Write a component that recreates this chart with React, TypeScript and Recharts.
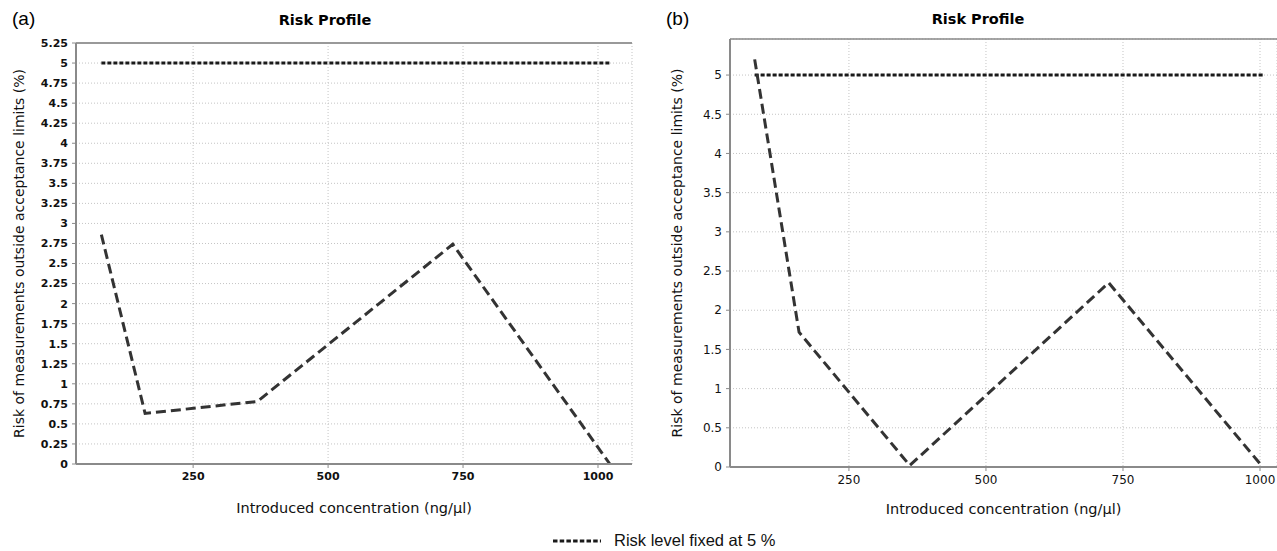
import React from "react"
import { LineChart, Line, XAxis, YAxis, CartesianGrid, ReferenceLine, Label } from "recharts"

// (a) panel
const concA = [80, 161, 369, 731, 1022]
const riskA = [2.86, 0.63, 0.78, 2.74, 0]
// (b) panel
const concB = [78, 159, 361, 724, 1005]
const riskB = [5.2, 1.72, 0.02, 2.35, 0]

const limitLevel = 5
const xTicks = [250, 500, 750, 1000]
const yTicksA = [0, 0.25, 0.5, 0.75, 1, 1.25, 1.5, 1.75, 2, 2.25, 2.5, 2.75, 3, 3.25, 3.5, 3.75, 4, 4.25, 4.5, 4.75, 5, 5.25]
const yTicksB = [0, 0.5, 1, 1.5, 2, 2.5, 3, 3.5, 4, 4.5, 5]

const TITLE = "Risk Profile"
const X_LABEL = "Introduced concentration (ng/µl)"
const Y_LABEL = "Risk of measurements outside acceptance limits (%)"
const LEGEND = "Risk level fixed at 5 %"

const FONT = "'DejaVu Sans', sans-serif"
const AXIS = "#8a8a8a"

const dataA = concA.map((c, i) => ({ conc: c, risk: riskA[i], limit: limitLevel }))
const dataB = concB.map((c, i) => ({ conc: c, risk: riskB[i], limit: limitLevel }))

const yLabel = (cx: number) => (props: any) => {
  const vb = props.viewBox
  const cy = vb.y + vb.height / 2
  return (
    <text x={cx} y={cy} transform={`rotate(-90 ${cx} ${cy})`} textAnchor="middle" dominantBaseline="central"
      fontFamily={FONT} fontSize={14} fill="#111">
      {Y_LABEL}
    </text>
  )
}

const xLabel = (dy: number) => (props: any) => {
  const vb = props.viewBox
  const cx = vb.x + vb.width / 2
  return (
    <text x={cx} y={vb.y + dy} textAnchor="middle" dominantBaseline="central" fontFamily={FONT} fontSize={14.5} fill="#111">
      {X_LABEL}
    </text>
  )
}

export default function App() {
  const tickA = { fontFamily: FONT, fontSize: 11, fontWeight: "bold", fill: "#111" }
  const tickB = { fontFamily: FONT, fontSize: 12, fill: "#111" }

  return (
    <div style={{ position: "absolute", left: 0, top: 0, width: 1277, height: 551, overflow: "hidden", background: "#fff" }}>
      <div style={{ position: "absolute", left: 12, top: 8, fontFamily: "'Liberation Sans', Arial", fontSize: 19 }}>(a)</div>
      <div style={{ position: "absolute", left: 666, top: 8, fontFamily: "'Liberation Sans', Arial", fontSize: 19 }}>(b)</div>
      <div style={{ position: "absolute", left: 225, width: 200, top: 12, textAlign: "center", fontFamily: FONT, fontSize: 14.5, fontWeight: "bold" }}>{TITLE}</div>
      <div style={{ position: "absolute", left: 878, width: 200, top: 11, textAlign: "center", fontFamily: FONT, fontSize: 14.5, fontWeight: "bold" }}>{TITLE}</div>

      <div style={{ position: "absolute", left: 0, top: 0 }}>
        <LineChart width={640} height={530} data={dataA} margin={{ top: 43, right: 8, left: 0, bottom: 0 }}>
          <CartesianGrid stroke="#c4c4c4" strokeDasharray="1 2" />
          <XAxis dataKey="conc" type="number" domain={[33, 1063]} ticks={xTicks} height={66} tick={tickA}
            tickSize={4} tickMargin={4} axisLine={{ stroke: AXIS, strokeWidth: 2 }} tickLine={{ stroke: AXIS }}>
            <Label content={xLabel(44)} />
          </XAxis>
          <YAxis type="number" domain={[0, 5.25]} ticks={yTicksA} width={76} tick={tickA} interval={0}
            tickSize={4} tickMargin={4} axisLine={{ stroke: AXIS, strokeWidth: 2 }} tickLine={{ stroke: AXIS }}>
            <Label content={yLabel(19)} />
          </YAxis>
          <ReferenceLine y={5.25} stroke="#999" strokeWidth={2} />
          <Line dataKey="limit" type="linear" stroke="#1a1a1a" strokeWidth={3} strokeDasharray="4 2" dot={false} isAnimationActive={false} />
          <Line dataKey="risk" type="linear" stroke="#333" strokeWidth={3} strokeDasharray="10 5" dot={false} isAnimationActive={false} />
        </LineChart>
      </div>

      <div style={{ position: "absolute", left: 640, top: 0 }}>
        <LineChart width={637} height={530} data={dataB} margin={{ top: 39, right: 0, left: 0, bottom: 0 }}>
          <CartesianGrid stroke="#c4c4c4" strokeDasharray="1 2" />
          <XAxis dataKey="conc" type="number" domain={[33, 1031]} ticks={xTicks} height={63} tick={tickB}
            tickSize={4} tickMargin={4} axisLine={{ stroke: AXIS, strokeWidth: 2 }} tickLine={{ stroke: AXIS }}>
            <Label content={xLabel(42)} />
          </XAxis>
          <YAxis type="number" domain={[0, 5.46]} ticks={yTicksB} width={90} tick={tickB} interval={0}
            tickSize={4} tickMargin={4} axisLine={{ stroke: AXIS, strokeWidth: 2 }} tickLine={{ stroke: AXIS }}>
            <Label content={yLabel(37)} />
          </YAxis>
          <ReferenceLine y={5.46} stroke="#888" strokeWidth={1.5} />
          <Line dataKey="limit" type="linear" stroke="#1a1a1a" strokeWidth={3} strokeDasharray="4 2" dot={false} isAnimationActive={false} />
          <Line dataKey="risk" type="linear" stroke="#333" strokeWidth={3} strokeDasharray="10 5" dot={false} isAnimationActive={false} />
        </LineChart>
      </div>

      <div style={{ position: "absolute", left: 553, top: 530, height: 20, display: "flex", alignItems: "center", whiteSpace: "nowrap" }}>
        <svg width={50} height={20}>
          <line x1={0} y1={11} x2={48} y2={11} stroke="#1a1a1a" strokeWidth={3} strokeDasharray="4.5 2.2" />
        </svg>
        <span style={{ marginLeft: 11, fontFamily: "'Liberation Sans', Arial", fontSize: 16.5, lineHeight: "20px", color: "#111" }}>{LEGEND}</span>
      </div>
    </div>
  )
}
